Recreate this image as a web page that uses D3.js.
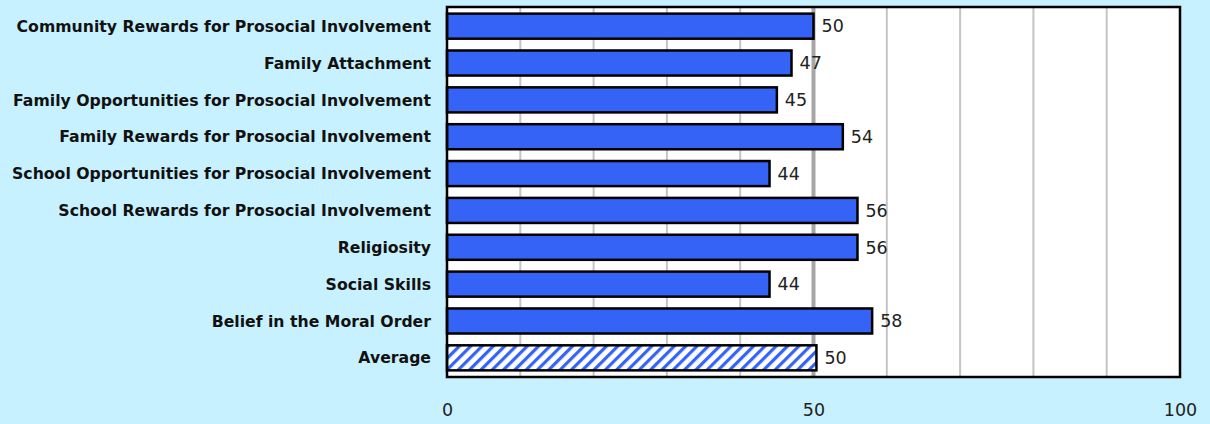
<!DOCTYPE html>
<html>
<head>
<meta charset="utf-8">
<script src="https://cdn.jsdelivr.net/npm/d3@7"></script>
<style>
  html, body { margin: 0; padding: 0; background: #C8F1FF; }
  svg { display: block; }
</style>
</head>
<body>
<svg id="chart" width="1210" height="424"></svg>
<script>
const categories = [
  "Community Rewards for Prosocial Involvement",
  "Family Attachment",
  "Family Opportunities for Prosocial Involvement",
  "Family Rewards for Prosocial Involvement",
  "School Opportunities for Prosocial Involvement",
  "School Rewards for Prosocial Involvement",
  "Religiosity",
  "Social Skills",
  "Belief in the Moral Order",
  "Average"
];
const values = [50, 47, 45, 54, 44, 56, 56, 44, 58, 50.4];
const tickLabels = [0, 50, 100];
const gridValues = [10, 20, 30, 40, 50, 60, 70, 80, 90];

const svg = d3.select("#chart");
const pL = 447, pR = 1180, pT = 7, pB = 377;

const x = d3.scaleLinear().domain([0, 100]).range([pL, pR]);
const y = d3.scaleBand().domain(categories).range([pT, pB])
  .paddingInner(0.32).paddingOuter(0.18);

// hatch pattern
const defs = svg.append("defs");
const pat = defs.append("pattern")
  .attr("id", "hatch").attr("patternUnits", "userSpaceOnUse")
  .attr("width", 8).attr("height", 8)
  .attr("patternTransform", "rotate(45)");
pat.append("rect").attr("width", 8).attr("height", 8).attr("fill", "#fff");
pat.append("rect").attr("x", 0).attr("y", 0).attr("width", 3.2).attr("height", 8).attr("fill", "#3563F5");

// plot background
svg.append("rect").attr("x", pL).attr("y", pT)
  .attr("width", pR - pL).attr("height", pB - pT).attr("fill", "#fff");

// gridlines
svg.append("g").selectAll("line").data(gridValues).join("line")
  .attr("x1", d => x(d)).attr("x2", d => x(d))
  .attr("y1", pT).attr("y2", pB)
  .attr("stroke", d => d === 50 ? "#A6A6A6" : "#C4C4C4")
  .attr("stroke-width", d => d === 50 ? 4 : 2);

// bars
svg.append("g").selectAll("rect").data(categories).join("rect")
  .attr("x", x(0))
  .attr("y", d => y(d))
  .attr("width", (d, i) => x(values[i]) - x(0))
  .attr("height", y.bandwidth())
  .attr("fill", d => d === "Average" ? "url(#hatch)" : "#3563F5")
  .attr("stroke", "#000").attr("stroke-width", 2.5);

// value labels
const fmt = d3.format(".0f");
svg.append("g").selectAll("text").data(categories).join("text")
  .attr("x", (d, i) => x(values[i]) + 8)
  .attr("y", d => y(d) + y.bandwidth() / 2)
  .attr("dy", "0.36em")
  .attr("font-family", "DejaVu Sans, sans-serif")
  .attr("font-size", 17.5)
  .attr("fill", "#222")
  .text((d, i) => fmt(values[i]));

// category labels
svg.append("g").selectAll("text").data(categories).join("text")
  .attr("x", 431)
  .attr("y", d => y(d) + y.bandwidth() / 2)
  .attr("dy", "0.36em")
  .attr("text-anchor", "end")
  .attr("font-family", "DejaVu Sans, sans-serif")
  .attr("font-weight", "bold")
  .attr("font-size", 15.7)
  .attr("fill", "#111")
  .text(d => d);

// frame
svg.append("rect").attr("x", pL).attr("y", pT)
  .attr("width", pR - pL).attr("height", pB - pT)
  .attr("fill", "none").attr("stroke", "#000").attr("stroke-width", 2.5);

// x axis tick labels
const axis = d3.axisBottom(x).tickValues(tickLabels).tickSize(0).tickPadding(27);
const ag = svg.append("g").attr("transform", `translate(0,${pB})`).call(axis);
ag.select(".domain").remove();
ag.selectAll("text")
  .attr("font-family", "DejaVu Sans, sans-serif")
  .attr("font-size", 17.5)
  .attr("fill", "#222");
</script>
</body>
</html>
